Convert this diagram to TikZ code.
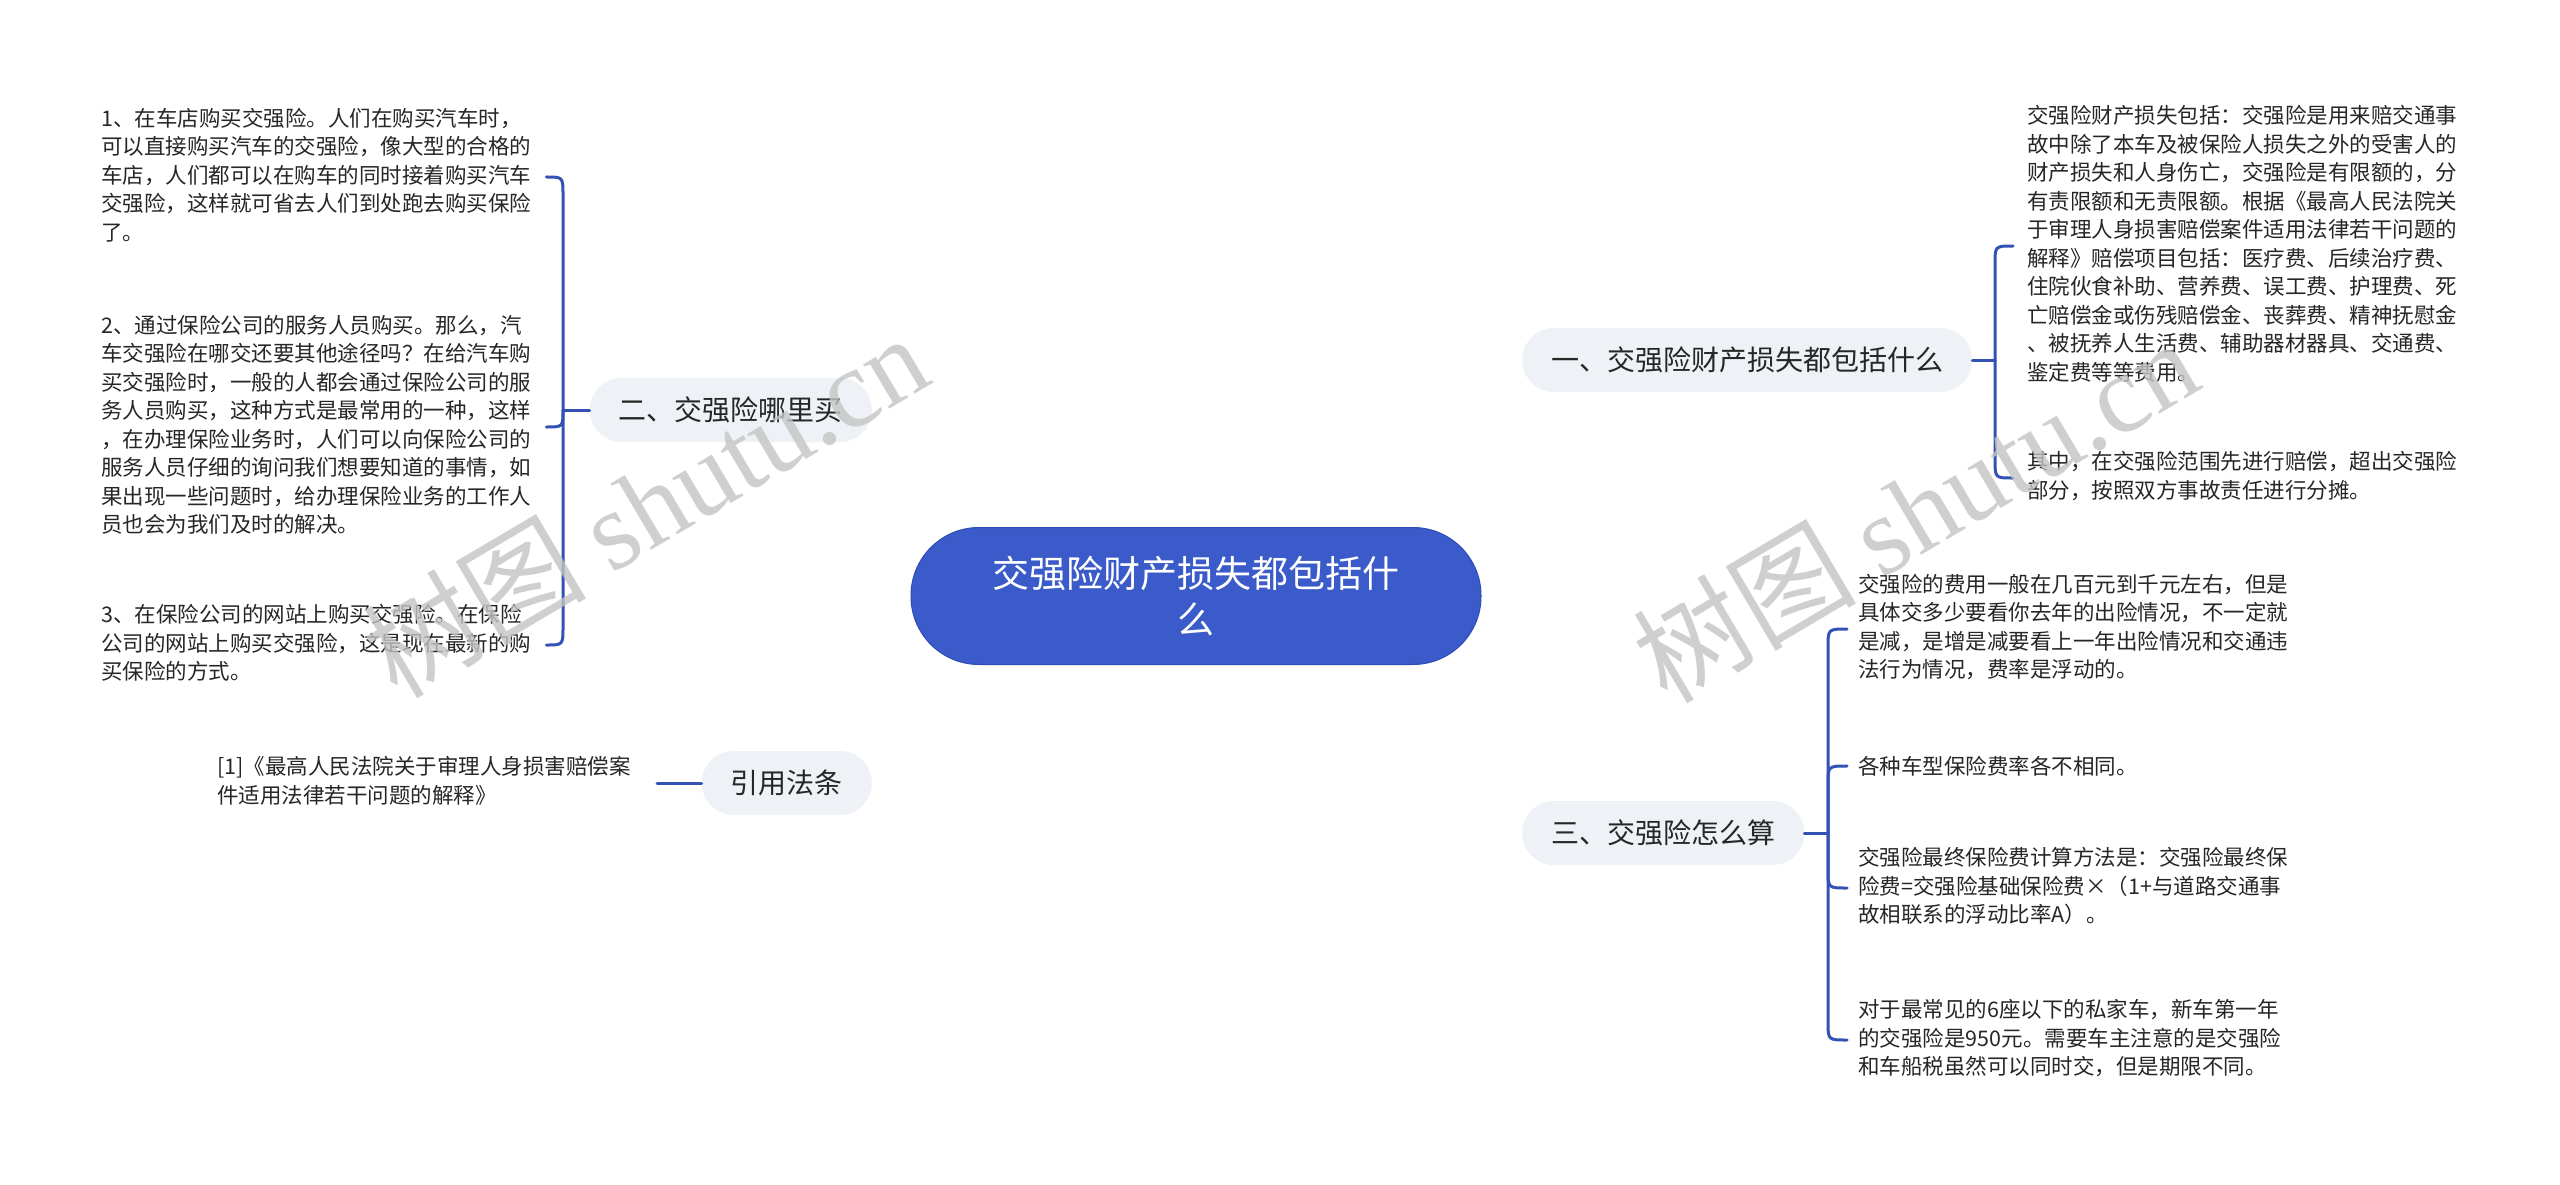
\documentclass[tikz,border=0pt]{standalone}
\usepackage{fontspec}
\setmainfont{Noto Sans CJK SC}
\newfontfamily\wmfont{Liberation Serif}
\definecolor{mainblue}{HTML}{3A5BC9}
\definecolor{mainedge}{HTML}{2E4DB5}
\definecolor{linkblue}{HTML}{3452B4}
\definecolor{pillgray}{HTML}{EEF1F5}
\definecolor{txt}{HTML}{262626}
\definecolor{wmgray}{HTML}{C4C4C4}
\newcommand\ls{\rule[-6pt]{0pt}{28.5pt}}
\pgfdeclarelayer{bg}
\pgfsetlayers{bg,main}
\begin{document}
\begin{tikzpicture}[x=1pt,y=-1pt,
  conn/.style={draw=linkblue, line width=3pt, line cap=round},
  leaf/.style={anchor=west, inner sep=0pt, align=left, text=txt,
    font=\fontsize{21.5}{28.5}\selectfont,
    execute at begin node=\ls, execute at end node=\ls},
  pill/.style={fill=pillgray, rounded corners=32pt, minimum height=64pt,
    inner xsep=29pt, inner ysep=0pt, text=txt, font=\fontsize{28}{34}\selectfont},
  rootbox/.style={fill=mainblue, draw=mainedge, line width=1pt, rounded corners=68pt,
    minimum width=570pt, minimum height=137pt, inner sep=0pt, text=white,
    align=center, font=\fontsize{37}{46}\selectfont},
  wm/.style={text=wmgray, opacity=0.8, inner sep=0pt, font=\fontsize{112}{112}\selectfont}]
\fill[white] (0,0) rectangle (2560,1185);
\useasboundingbox (0,0) rectangle (2560,1185);

% root and branches
\node[rootbox] (root) at (1196,596) {交强险财产损失都包括什\\么};
\node[pill, anchor=west] (p1) at (1522,360) {一、交强险财产损失都包括什么};
\node[pill, anchor=east] (p2) at (872,410) {二、交强险哪里买};
\node[pill, anchor=west] (p3) at (1522,833) {三、交强险怎么算};
\node[pill, anchor=east] (p4) at (872,783) {引用法条};

% leaves of branch 1
\node[leaf] (c1a) at (2027,246) {交强险财产损失包括：交强险是用来赔交通事\\故中除了本车及被保险人损失之外的受害人的\\财产损失和人身伤亡，交强险是有限额的，分\\有责限额和无责限额。根据《最高人民法院关\\于审理人身损害赔偿案件适用法律若干问题的\\解释》赔偿项目包括：医疗费、后续治疗费、\\住院伙食补助、营养费、误工费、护理费、死\\亡赔偿金或伤残赔偿金、丧葬费、精神抚慰金\\、被抚养人生活费、辅助器材器具、交通费、\\鉴定费等等费用。};
\node[leaf] (c1b) at (2027,478) {其中，在交强险范围先进行赔偿，超出交强险\\部分，按照双方事故责任进行分摊。};

% leaves of branch 3
\node[leaf] (c3a) at (1858,629) {交强险的费用一般在几百元到千元左右，但是\\具体交多少要看你去年的出险情况，不一定就\\是减，是增是减要看上一年出险情况和交通违\\法行为情况，费率是浮动的。};
\node[leaf] (c3b) at (1858,766) {各种车型保险费率各不相同。};
\node[leaf] (c3c) at (1858,888) {交强险最终保险费计算方法是：交强险最终保\\险费=交强险基础保险费×（1+与道路交通事\\故相联系的浮动比率A）。};
\node[leaf] (c3d) at (1858,1040) {对于最常见的6座以下的私家车，新车第一年\\的交强险是950元。需要车主注意的是交强险\\和车船税虽然可以同时交，但是期限不同。};

% leaves of branch 2
\node[leaf] (c2a) at (101,177) {1、在车店购买交强险。人们在购买汽车时，\\可以直接购买汽车的交强险，像大型的合格的\\车店，人们都可以在购车的同时接着购买汽车\\交强险，这样就可省去人们到处跑去购买保险\\了。};
\node[leaf] (c2b) at (101,427) {2、通过保险公司的服务人员购买。那么，汽\\车交强险在哪交还要其他途径吗？在给汽车购\\买交强险时，一般的人都会通过保险公司的服\\务人员购买，这种方式是最常用的一种，这样\\，在办理保险业务时，人们可以向保险公司的\\服务人员仔细的询问我们想要知道的事情，如\\果出现一些问题时，给办理保险业务的工作人\\员也会为我们及时的解决。};
\node[leaf] (c2c) at (101,645) {3、在保险公司的网站上购买交强险。在保险\\公司的网站上购买交强险，这是现在最新的购\\买保险的方式。};

% leaf of branch 4
\node[leaf] (c4) at (217,783) {[1]《最高人民法院关于审理人身损害赔偿案\\件适用法律若干问题的解释》};

% junctions
\coordinate (j1) at (1995,360);
\coordinate (j2) at (563,410);
\coordinate (j3) at (1828,833);
\coordinate (e4) at (657,783);

\begin{pgfonlayer}{bg}
  \draw[conn] (root.center) .. controls (1230,380) and (1310,360) .. (p1.west);
  \draw[conn] (root.center) .. controls (1165,400) and (1080,410) .. (p2.east);
  \draw[conn] (root.center) .. controls (1228,800) and (1310,833) .. (p3.west);
  \draw[conn] (root.center) .. controls (1165,790) and (1080,783) .. (p4.east);
\end{pgfonlayer}

% brackets branch 1
\draw[conn] (p1.east) -- (j1);
\draw[conn] (j1) -- (1995,264) .. controls (1995,246) .. ([xshift=-14pt]c1a.west);
\draw[conn] (j1) -- (1995,460) .. controls (1995,478) .. ([xshift=-14pt]c1b.west);

% brackets branch 3
\draw[conn] (p3.east) -- (j3);
\draw[conn] (j3) -- (1828,647) .. controls (1828,629) .. ([xshift=-11pt]c3a.west);
\draw[conn] (j3) -- (1828,784) .. controls (1828,766) .. ([xshift=-11pt]c3b.west);
\draw[conn] (j3) -- (1828,870) .. controls (1828,888) .. ([xshift=-11pt]c3c.west);
\draw[conn] (j3) -- (1828,1022) .. controls (1828,1040) .. ([xshift=-11pt]c3d.west);

% brackets branch 2
\draw[conn] (p2.west) -- (j2);
\draw[conn] (j2) -- (563,195) .. controls (563,177) .. ([xshift=15pt]c2a.east);
\draw[conn] (j2) .. controls (563,427) .. ([xshift=15pt]c2b.east);
\draw[conn] (j2) -- (563,627) .. controls (563,645) .. ([xshift=15pt]c2c.east);

% branch 4
\draw[conn] (p4.west) -- (e4);

% watermarks
\node[wm, rotate=30.6] (wm1) at (645,505) {树图 {\wmfont shutu.cn}};
\node[wm, rotate=30.6] (wm2) at (1915,510) {树图 {\wmfont shutu.cn}};
\end{tikzpicture}
\end{document}
